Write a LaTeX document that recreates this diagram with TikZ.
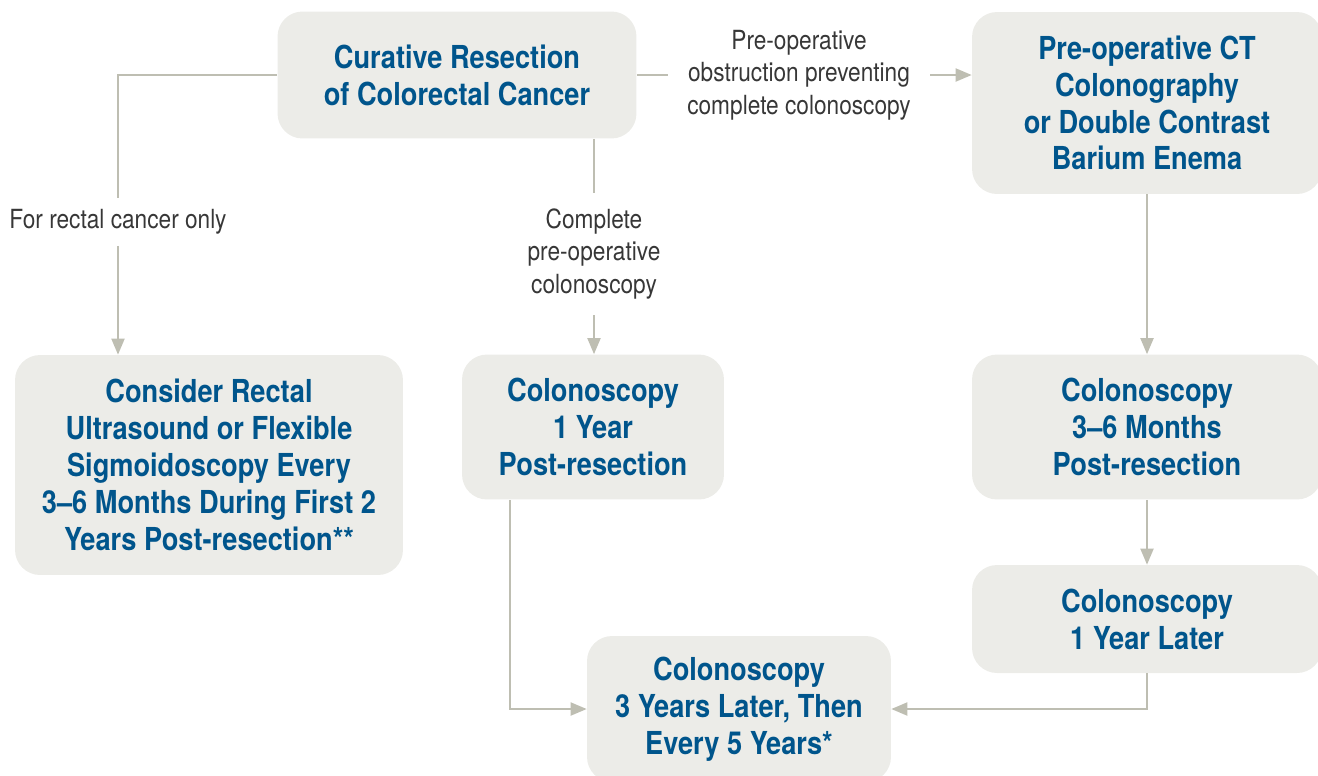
\documentclass[tikz,border=0pt]{standalone}
\usepackage{fontspec}
\setmainfont{TeX Gyre Heros}[FakeStretch=0.86]
\usetikzlibrary{arrows.meta,positioning}
\definecolor{boxfill}{RGB}{236,236,232}
\definecolor{boxtext}{RGB}{0,85,140}
\definecolor{linegray}{RGB}{190,190,178}
\definecolor{notetext}{RGB}{55,55,55}
\newcommand{\connectdown}[2]{%
  \draw[flow] (#1) -- (#2)}
\newcommand{\connectplain}[2]{%
  \draw[plain] (#1) -- (#2)}

\begin{document}
\begin{tikzpicture}[x=0.02cm, y=-0.02cm,
    stagebox/.style={rectangle, rounded corners=0.5cm, fill=boxfill,
    text=boxtext, font=\fontsize{18}{21}\selectfont\bfseries,
    align=center, inner sep=0pt},
    note/.style={text=notetext, font=\fontsize{15}{18.5}\selectfont,
    align=center, inner sep=0pt},
    plain/.style={draw=linegray, line width=1.1pt},
    flow/.style={plain, -{Triangle[length=0.32cm, width=0.26cm]}}]
  \useasboundingbox (0,0) rectangle (1318,775);

  % boxes
  \node[stagebox, minimum width=7.18cm, minimum height=2.54cm] (resect) at (457,75)
    {Curative Resection\\of Colorectal Cancer};
  \node[stagebox, minimum width=7cm, minimum height=3.64cm] (ctcol) at (1147,103)
    {Pre-operative CT\\Colonography\\or Double Contrast\\Barium Enema};
  \node[stagebox, minimum width=7.76cm, minimum height=4.4cm] (rectal) at (209,465)
    {Consider Rectal\\Ultrasound or Flexible\\Sigmoidoscopy Every\\3–6 Months During First 2\\Years Post-resection**};
  \node[stagebox, minimum width=5.24cm, minimum height=2.9cm] (oneyear) at (593,427)
    {Colonoscopy\\1 Year\\Post-resection};
  \node[stagebox, minimum width=7cm, minimum height=2.9cm] (months) at (1147,427)
    {Colonoscopy\\3–6 Months\\Post-resection};
  \node[stagebox, minimum width=7cm, minimum height=2.16cm] (later) at (1147,619)
    {Colonoscopy\\1 Year Later};
  \node[stagebox, minimum width=6.08cm, minimum height=2.92cm] (fiveyear) at (739,709)
    {Colonoscopy\\3 Years Later, Then\\Every 5 Years*};

  % labels on the connectors
  \node[note, minimum height=0.94cm] (rectonly) at (118,222) {For rectal cancer only};
  \node[note, minimum height=2.44cm] (complete) at (594,254)
    {Complete\\pre-operative\\colonoscopy};
  \node[note, minimum width=5.24cm] (obstruct) at (799,75)
    {Pre-operative\\obstruction preventing\\complete colonoscopy};

  % connectors
  \draw[plain] (resect.west) -| (rectonly.north);
  \connectdown{rectonly.south}{rectonly.south |- rectal.north};
  \connectplain{complete.north |- resect.south}{complete.north};
  \connectdown{complete.south}{complete.south |- oneyear.north};
  \connectplain{resect.east}{obstruct.west};
  \connectdown{obstruct.east}{ctcol.west |- obstruct.east};
  \connectdown{ctcol.south}{months.north};
  \connectdown{months.south}{later.north};
  \draw[flow] ([xshift=-1.66cm]oneyear.south) |- (fiveyear.west);
  \draw[flow] (later.south) |- (fiveyear.east);
\end{tikzpicture}
\end{document}
